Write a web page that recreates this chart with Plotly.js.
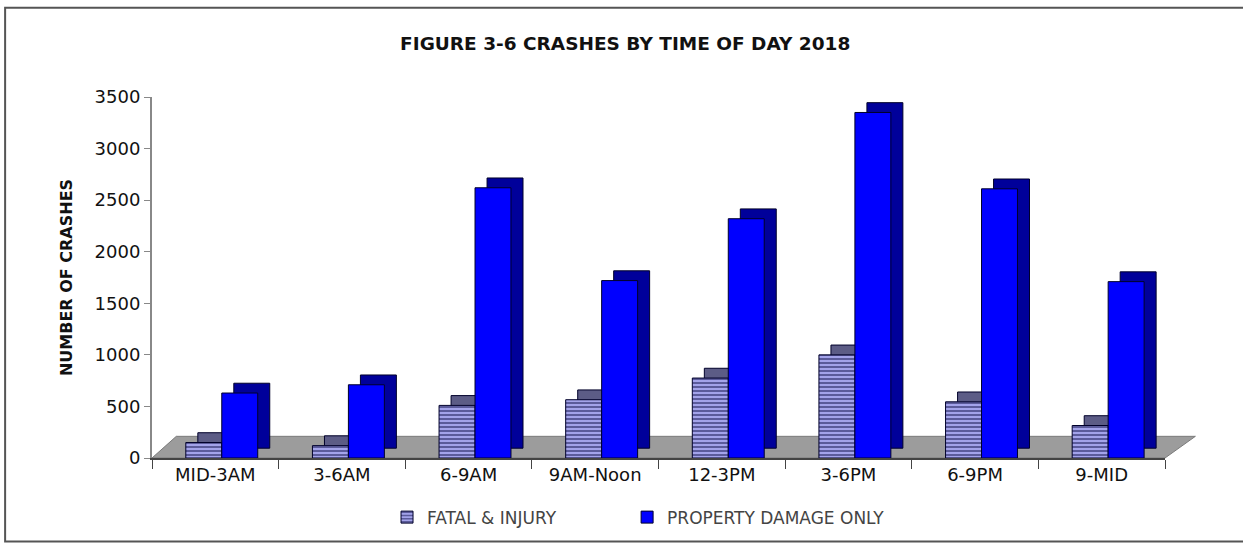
<!DOCTYPE html>
<html>
<head>
<meta charset="utf-8">
<script src="https://cdn.plot.ly/plotly-3.0.1.min.js"></script>
<style>html,body{margin:0;padding:0;background:#fff;}#chart{width:1243px;height:547px;}</style>
</head>
<body>
<div id="chart"></div>
<script>
const categories = ["MID-3AM", "3-6AM", "6-9AM", "9AM-Noon", "12-3PM", "3-6PM", "6-9PM", "9-MID"];
const fatalInjury = [150, 120, 510, 565, 775, 1000, 545, 315];
const propertyDamage = [630, 710, 2620, 1720, 2320, 3350, 2610, 1710];
const seriesNames = ["FATAL &amp; INJURY", "PROPERTY DAMAGE ONLY"];
const yTickValues = [0, 500, 1000, 1500, 2000, 2500, 3000, 3500];

// 3D look styling (not data)
const barW = 0.284, fatalOff = -0.233, pdoOff = 0.051;
const depthDx = 0.095, depthDy = 95;
const lineStyle = {color: "#00002a", width: 1};

function depthTrace(vals, off, color) {
  return {
    type: "bar", x: categories, y: vals, base: vals.map(() => depthDy),
    offset: off + depthDx, width: barW, showlegend: false, hoverinfo: "skip",
    marker: {color: color, line: lineStyle}
  };
}

const traces = [
  depthTrace(fatalInjury, fatalOff, "#5c5c86"),
  {
    type: "bar", name: seriesNames[0], x: categories, y: fatalInjury,
    offset: fatalOff, width: barW, legend: "legend",
    marker: {color: "#a3a3ea", line: lineStyle,
      pattern: {shape: "-", fgcolor: "#2a2a66", bgcolor: "#a3a3ea", size: 4, solidity: 0.3}}
  },
  depthTrace(propertyDamage, pdoOff, "#00009a"),
  {
    type: "bar", name: seriesNames[1], x: categories, y: propertyDamage,
    offset: pdoOff, width: barW, legend: "legend2",
    marker: {color: "#0000ff", line: lineStyle}
  }
];

const font = "DejaVu Sans, Arial, sans-serif";
const legendBase = {
  orientation: "h", xanchor: "left", y: -0.165, yanchor: "middle", itemwidth: 30,
  font: {family: font, size: 17, color: "#444"}, bgcolor: "rgba(0,0,0,0)"
};
const layout = {
  width: 1243, height: 547,
  margin: {l: 152, r: 78, t: 97, b: 86},
  paper_bgcolor: "#fff", plot_bgcolor: "rgba(0,0,0,0)",
  barmode: "overlay",
  hovermode: false,
  title: {text: "<b>FIGURE 3-6 CRASHES BY TIME OF DAY 2018</b>", x: 0.503, xanchor: "center",
          y: 0.92, yanchor: "middle", font: {family: font, size: 18.5, color: "#111"}},
  xaxis: {
    type: "category", range: [-0.5, 7.5], tickson: "boundaries", ticks: "outside", ticklen: 9,
    tickcolor: "#444", showline: true, linecolor: "#444", linewidth: 1.5, showgrid: false,
    tickfont: {family: font, size: 18, color: "#111"}, zeroline: false
  },
  yaxis: {
    range: [0, 3500], tickvals: yTickValues, ticks: "outside", ticklen: 6, tickcolor: "#888",
    showline: true, linecolor: "#888", linewidth: 2, showgrid: false, zeroline: false,
    tickfont: {family: font, size: 18, color: "#111"},
    title: {text: "<b>NUMBER OF CRASHES</b>", standoff: 18, font: {family: font, size: 16, color: "#111"}}
  },
  legend: Object.assign({}, legendBase, {x: 0.232}),
  legend2: Object.assign({}, legendBase, {x: 0.469}),
  shapes: [
    {type: "path", xref: "paper", yref: "paper", layer: "below",
     path: "M 0 0 L 1 0 L 1.03 0.06 L 0.024 0.06 Z",
     fillcolor: "#9c9c9c", line: {color: "#7a7a7a", width: 1}},
    {type: "rect", xref: "paper", yref: "paper", layer: "below",
     x0: -0.145, x1: 1.09, y0: -0.231, y1: 1.247,
     line: {color: "#555", width: 2}, fillcolor: "rgba(0,0,0,0)"}
  ]
};

Plotly.newPlot("chart", traces, layout, {staticPlot: true, displayModeBar: false});
</script>
</body>
</html>
